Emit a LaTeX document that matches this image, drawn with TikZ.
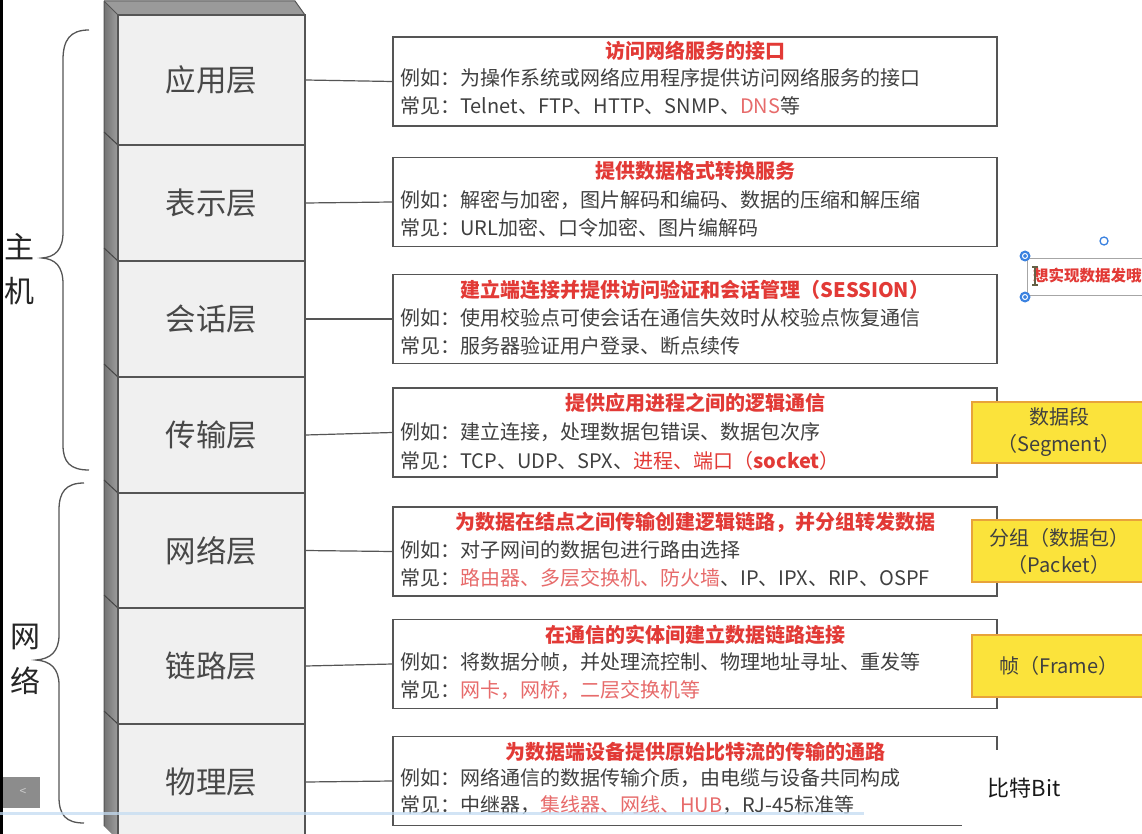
\documentclass[tikz,border=0pt]{standalone}
\usepackage{fontspec}
\setmainfont{Noto Sans CJK SC}
\definecolor{tred}{HTML}{E23A36}
\definecolor{lred}{HTML}{E76B6B}
\definecolor{txt}{HTML}{404040}
\definecolor{lay}{HTML}{484848}
\definecolor{edgec}{HTML}{555555}
\definecolor{frontc}{HTML}{F0F0F0}
\definecolor{sidec}{HTML}{8E8E8E}
\definecolor{topc}{HTML}{9A9A9A}
\definecolor{ylw}{HTML}{FBE33B}
\definecolor{ybd}{HTML}{E8A33A}
\definecolor{handle}{HTML}{3B82E0}
\definecolor{scrollc}{HTML}{C4DCF2}
\tikzset{
  layer/.style={draw=edgec, line width=1.2pt, fill=frontc, minimum width=187pt, inner sep=0pt, font=\fontsize{30.5}{30.5}\selectfont, text=lay},
  descbox/.style={draw=edgec, line width=1.3pt, fill=white, minimum width=604pt, minimum height=89pt, inner sep=0pt},
  ttl/.style={font=\fontsize{20}{20}\selectfont\bfseries, text=tred, inner sep=0pt},
  dline/.style={anchor=west, font=\fontsize{20}{20}\selectfont, text=txt, inner sep=0pt},
  ybox/.style={draw=ybd, line width=1.2pt, fill=ylw, minimum width=174pt, inner sep=0pt, align=center, font=\fontsize{20}{27}\selectfont, text=txt},
  conn/.style={draw=edgec, line width=1.2pt},
  brace/.style={draw=edgec, line width=1.3pt},
  side/.style={font=\fontsize{30}{30}\selectfont, text=black!85, inner sep=0pt},
}
\begin{document}
\begin{tikzpicture}[x=1pt, y=-1pt]
\useasboundingbox (0,0) rectangle (1142,834);
\clip (0,0) rectangle (1142,834);
\fill[white] (0,0) rectangle (1142,834);

% stack: top and side faces
\fill[topc] (104,1) -- (295,1) -- (305,15) -- (118,15) -- cycle;
\draw[edgec, line width=1pt] (104,1) -- (295,1) -- (305,15);
\shade[left color=black!55, right color=black!38] (104,1) -- (118,15) -- (118,840) -- (104,826) -- cycle;
\draw[edgec, line width=1pt] (104,1) -- (104,826) (104,1) -- (118,15);
\foreach \b in {145,261,377,493,608,724}
  \draw[edgec!80!black, line width=1pt] (104,\b-13) -- (118,\b);

% layers
\node[layer, minimum height=130pt] (L1) at (211.5,80) {应用层};
\node[layer, minimum height=116pt] (L2) at (211.5,203) {表示层};
\node[layer, minimum height=116pt] (L3) at (211.5,319) {会话层};
\node[layer, minimum height=116pt] (L4) at (211.5,435) {传输层};
\node[layer, minimum height=115pt] (L5) at (211.5,550.5) {网络层};
\node[layer, minimum height=116pt] (L6) at (211.5,666) {链路层};
\node[layer, minimum height=116pt] (L7) at (211.5,782) {物理层};

% braces and labels
\draw[brace] (89,30) .. controls (70,30) and (63,40) .. (63,60) -- (63,232)
  .. controls (63,250) and (55,257) .. (42,258) .. controls (55,259) and (63,266) .. (63,284)
  -- (63,445) .. controls (63,462) and (70,470) .. (89,470);
\draw[brace] (84,483) .. controls (66,483) and (59,492) .. (59,510) -- (59,635)
  .. controls (59,652) and (50,659) .. (36,660) .. controls (50,661) and (59,668) .. (59,685)
  -- (59,797) .. controls (59,815) and (66,823) .. (84,823);
\node[side] (h1) at (20,247) {主};
\node[side] (h2) at (20,291) {机};
\node[side] (n1) at (25,637) {网};
\node[side] (n2) at (25,681) {络};

% description boxes
\node[descbox] (B1) at (695,81.5) {};
\node[descbox] (B2) at (695,202) {};
\node[descbox] (B3) at (695,319) {};
\node[descbox] (B4) at (695,432.5) {};
\node[descbox] (B5) at (695,551.5) {};
\node[descbox] (B6) at (695,664) {};
\node[descbox] (B7) at (695,781) {};

\foreach \k in {1,...,7} \draw[conn] (L\k.east) -- (B\k.west);

% texts box 1
\node[ttl] (t1) at (695,51) {访问网络服务的接口};
\node[dline] (a1) at (400,78) {例如：为操作系统或网络应用程序提供访问网络服务的接口};
\node[dline] (c1) at (400,106) {常见：Telnet、FTP、HTTP、SNMP、\textcolor{lred}{DNS}等};
% box 2
\node[ttl] (t2) at (695,171) {提供数据格式转换服务};
\node[dline] (a2) at (400,200) {例如：解密与加密，图片解码和编码、数据的压缩和解压缩};
\node[dline] (c2) at (400,228) {常见：URL加密、口令加密、图片编解码};
% box 3
\node[ttl] (t3) at (695,290) {建立端连接并提供访问验证和会话管理（SESSION）};
\node[dline] (a3) at (400,318) {例如：使用校验点可使会话在通信失效时从校验点恢复通信};
\node[dline] (c3) at (400,346) {常见：服务器验证用户登录、断点续传};
% box 4
\node[ttl] (t4) at (695,403) {提供应用进程之间的逻辑通信};
\node[dline] (a4) at (400,432) {例如：建立连接，处理数据包错误、数据包次序};
\node[dline] (c4) at (400,461) {常见：TCP、UDP、SPX、\textcolor{tred}{进程、端口（\textbf{socket}）}};
% box 5
\node[ttl] (t5) at (695,522) {为数据在结点之间传输创建逻辑链路，并分组转发数据};
\node[dline] (a5) at (400,550) {例如：对子网间的数据包进行路由选择};
\node[dline] (c5) at (400,578) {常见：\textcolor{lred}{路由器、多层交换机、防火墙}、IP、IPX、RIP、OSPF};
% box 6
\node[ttl] (t6) at (695,635) {在通信的实体间建立数据链路连接};
\node[dline] (a6) at (400,662) {例如：将数据分帧，并处理流控制、物理地址寻址、重发等};
\node[dline] (c6) at (400,690) {常见：\textcolor{lred}{网卡，网桥，二层交换机等}};
% box 7
\node[ttl] (t7) at (695,752) {为数据端设备提供原始比特流的传输的通路};
\node[dline] (a7) at (400,778) {例如：网络通信的数据传输介质，由电缆与设备共同构成};
\node[dline] (c7) at (400,805) {常见：中继器，\textcolor{lred}{集线器、网线、HUB}，RJ-45标准等};

% yellow PDU boxes
\node[ybox, minimum height=61pt] (Y1) at (1059,432.5) {数据段\\（Segment）};
\node[ybox, minimum height=62pt] (Y2) at (1059,551) {分组（数据包）\\（Packet）};
\node[ybox, minimum height=62pt] (Y3) at (1059,666) {帧（Frame）};

% cover and bit label
\fill[white] (962,750) rectangle (1142,834);
\node[font=\fontsize{22}{22}\selectfont, text=black!90, inner sep=0pt] (bit) at (1024,788) {比特Bit};

% selected text box (screenshot overlay)
\node[draw=black!35, line width=1pt, fill=white, minimum width=125pt, minimum height=37pt, inner sep=0pt] (sel) at (1089.5,276.5) {};
\node[anchor=west, inner sep=0pt, font=\fontsize{15.5}{15.5}\selectfont\bfseries, text=tred] (selt) at (1033,276) {想实现数据发哦};
\draw[black!70!yellow, line width=1.5pt] (1035,267) -- (1035,285) (1032,267) -- (1038,267) (1032,285) -- (1038,285);
\foreach \p in {(1025,256),(1025,297)} \fill[handle] \p circle (5.5);
\foreach \p in {(1025,256),(1025,297)} \draw[white, line width=1pt] \p circle (2.5);
\draw[handle, line width=1.3pt] (1104,241) circle (4);

% screen artifacts
\fill[black] (0,0) rectangle (3,834);
\fill[black!45] (3,777) rectangle (40,808);
\node[text=black!20, font=\fontsize{12}{12}\selectfont, inner sep=0pt] (lt) at (23,792) {<};
\fill[scrollc, opacity=0.75] (0,811.5) rectangle (864,815);
\end{tikzpicture}
\end{document}
